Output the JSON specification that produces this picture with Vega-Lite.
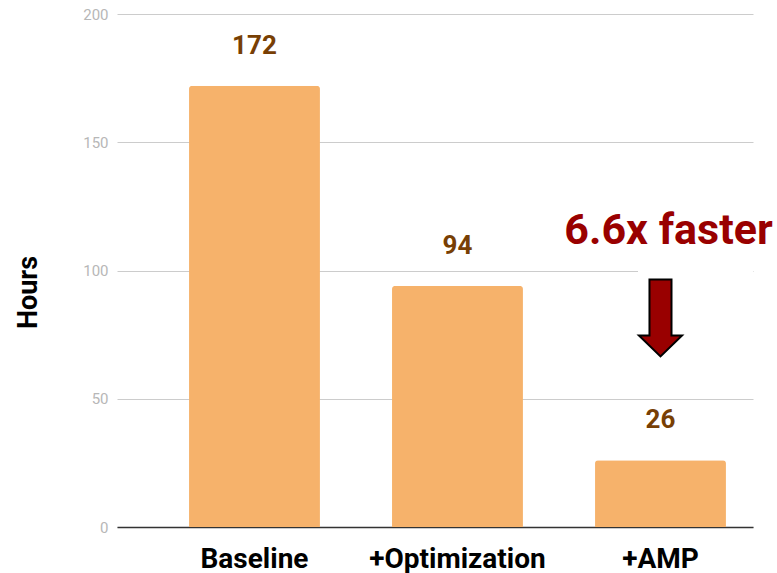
{
  "$schema": "https://vega.github.io/schema/vega-lite/v6.json",
  "width": 636,
  "height": 513,
  "autosize": {"type": "none"},
  "padding": {"left": 117, "top": 14, "right": 24, "bottom": 46},
  "config": {
    "font": "Roboto",
    "view": {"stroke": null},
    "axisX": {
      "title": null, "labelAngle": 0, "labelFontSize": 28, "labelFontWeight": "bold",
      "labelColor": "#000000", "labelPadding": 18, "ticks": false,
      "domainColor": "#333333", "domainWidth": 1.5, "grid": false
    },
    "axisY": {
      "labelColor": "#b7b7b7", "labelFontSize": 15, "labelPadding": 9,
      "ticks": false, "domain": false, "grid": true, "gridColor": "#cccccc",
      "titleFontSize": 27, "titleFontWeight": "bold", "titleColor": "#000000", "titlePadding": 40
    }
  },
  "datasets": {
    "hours": [
      {"stage": "Baseline", "hours": 172},
      {"stage": "+Optimization", "hours": 94},
      {"stage": "+AMP", "hours": 26}
    ],
    "note": [
      {"stage": "+AMP", "label": "6.6x faster", "labelY": 115.3, "arrowY": 81.5, "boxLo": 97, "boxHi": 104}
    ]
  },
  "layer": [
    {
      "data": {"name": "hours"},
      "mark": {"type": "bar", "color": "#f6b26b", "cornerRadiusTopLeft": 3, "cornerRadiusTopRight": 3},
      "encoding": {
        "x": {
          "field": "stage", "type": "nominal", "title": null,
          "scale": {"domain": ["Baseline", "+Optimization", "+AMP"], "paddingInner": 0.355, "paddingOuter": 0.244, "align": 0.727}
        },
        "y": {
          "field": "hours", "type": "quantitative", "title": "Hours",
          "scale": {"domain": [0, 200], "nice": false},
          "axis": {"values": [0, 50, 100, 150, 200], "titleY": 278}
        }
      }
    },
    {
      "data": {"name": "hours"},
      "mark": {"type": "text", "fontSize": 26, "fontWeight": "bold", "color": "#783f04", "baseline": "middle", "dy": -40},
      "encoding": {
        "x": {"field": "stage", "type": "nominal", "title": null},
        "y": {"field": "hours", "type": "quantitative", "title": "Hours"},
        "text": {"field": "hours", "type": "quantitative"}
      }
    },
    {
      "data": {"name": "note"},
      "mark": {"type": "bar", "color": "#ffffff", "width": 115, "xOffset": 35},
      "encoding": {
        "x": {"field": "stage", "type": "nominal", "title": null},
        "y": {"field": "boxLo", "type": "quantitative", "title": "Hours"},
        "y2": {"field": "boxHi"}
      }
    },
    {
      "data": {"name": "note"},
      "mark": {"type": "text", "fontSize": 43, "fontWeight": "bold", "color": "#990000", "baseline": "middle", "dx": 8},
      "encoding": {
        "x": {"field": "stage", "type": "nominal", "title": null},
        "y": {"field": "labelY", "type": "quantitative", "title": "Hours"},
        "text": {"field": "label", "type": "nominal"}
      }
    },
    {
      "data": {"name": "note"},
      "mark": {
        "type": "point", "filled": true, "opacity": 1,
        "shape": "M -0.286 -1 L 0.286 -1 L 0.286 0.455 L 0.56 0.455 L 0 1 L -0.56 0.455 L -0.286 0.455 Z",
        "size": 5929, "fill": "#990000", "stroke": "#000000", "strokeWidth": 2
      },
      "encoding": {
        "x": {"field": "stage", "type": "nominal", "title": null},
        "y": {"field": "arrowY", "type": "quantitative", "title": "Hours"}
      }
    }
  ]
}
